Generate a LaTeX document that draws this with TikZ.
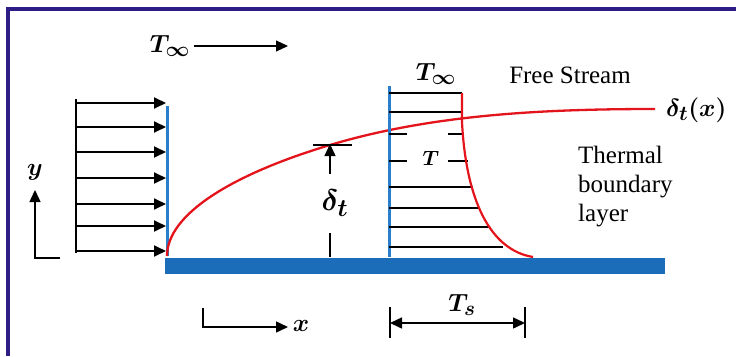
\documentclass[tikz,border=0pt]{standalone}
\usepackage{fontspec}
\setmainfont{Liberation Serif}
\usepackage{amsmath,bm,graphicx}
\usetikzlibrary{arrows.meta,positioning,calc}
\definecolor{plateblue}{HTML}{1C6DB9}
\definecolor{edgeblue}{HTML}{2A7FCC}
\definecolor{layerred}{HTML}{E3141B}
\definecolor{framepurple}{HTML}{2E1C87}

\begin{document}
\begin{tikzpicture}[x=1pt,y=-1pt,font=\fontsize{25}{29}\selectfont,
 tip/.style={-{Triangle[length=12pt,width=11pt]}},
 flow/.style={tip,line width=1.8pt},
 mlabel/.style={inner sep=0pt,font=\fontsize{24.88}{28}\selectfont}]
\useasboundingbox (0,0) rectangle (736,356);
% frame and plate
\draw[framepurple,line width=3.5pt] (8,356) -- (8,9) -- (736,9);
\fill[plateblue] (165,258) rectangle (665,274);
% incoming flow
\draw[line width=1.8pt] (76,99) -- (76,253);
\foreach \yy in {103,127,152,178,204,226,251} {
 \draw[flow] (76,\yy) -- (166,\yy);
}
\draw[edgeblue,line width=3pt] (167,106) -- (167,256);
% thermal boundary layer edge
\draw[layerred,line width=2.3pt] (167,256) .. controls (167,215) and (230,175) .. (330,145)
 .. controls (430,115) and (540,109) .. (655,109);
\node[mlabel,anchor=west] (deltax) at (666,110) {$\bm{\delta_t(x)}$};
% temperature profile
\draw[edgeblue,line width=3pt] (389,86) -- (389,257);
\foreach \yy/\xe/\w in {93/462/2.3,112/462/2.3,187/473/1.6,208/480/2.3,227/490/1.4,247/503/1.4} {
 \draw[line width=\w pt] (389,\yy) -- (\xe,\yy);
}
\foreach \yy/\xe in {134/462,161/468} {
 \draw[line width=2.3pt] (389,\yy) -- (407,\yy);
 \draw[line width=2.3pt] (448,\yy) -- (\xe,\yy);
}
\draw[layerred,line width=2.2pt] (462,93) -- (462,122) .. controls (466,200) and (490,250) .. (533,257);
\node[mlabel,font=\fontsize{20.74}{24}\selectfont] (tlocal) at (431,158) {$\bm{T}$};
\node[mlabel] (tinfb) at (436,74) {$\bm{T_\infty}$};
\node (free) at (570,75) {Free Stream};
\node[anchor=north west,align=left,inner sep=0pt] (tbl) at (578,146) {Thermal\\boundary\\layer};
% free stream temperature
\node[mlabel] (tinfa) at (170,46) {$\bm{T_\infty}$};
\coordinate (flowend) at (288,46);
\draw[tip,line width=1.2pt] ([xshift=4pt]tinfa.east |- flowend) -- (flowend);
% thickness marker
\coordinate (dtop) at (330,145);
\coordinate (dbot) at (330,257);
\draw[line width=1.8pt] ([xshift=-17pt]dtop) -- ([xshift=22pt]dtop);
\node[mlabel] (dlabel) at (335,203) {\scalebox{1.2}{$\bm{\delta_t}$}};
\draw[tip,line width=1.5pt] (330,174) -- ([yshift=1pt]dtop);
\draw[line width=1.5pt] (330,233) -- (dbot);
% surface temperature span
\coordinate (tsl) at (390,323);
\coordinate (tsr) at (525,323);
\draw[line width=2pt] (390,307) -- (390,338) (525,307) -- (525,338);
\draw[{Triangle[length=12pt,width=11pt]}-{Triangle[length=12pt,width=11pt]},line width=1.5pt] (tsl) -- (tsr);
\node[mlabel] (tslabel) at (462,305) {$\bm{T_s}$};
% axes
\coordinate (yorig) at (35,258);
\coordinate (xorig) at (203,308);
\draw[tip,line width=1.5pt] (60,258) -- (yorig) -- (35,190);
\node[mlabel] (ylabel) at (35,172) {$\bm{y}$};
\draw[tip,line width=1.5pt] (xorig) -- (203,327) -- (288,327);
\node[mlabel] (xlabel) at (301,326) {$\bm{x}$};
\end{tikzpicture}
\end{document}
